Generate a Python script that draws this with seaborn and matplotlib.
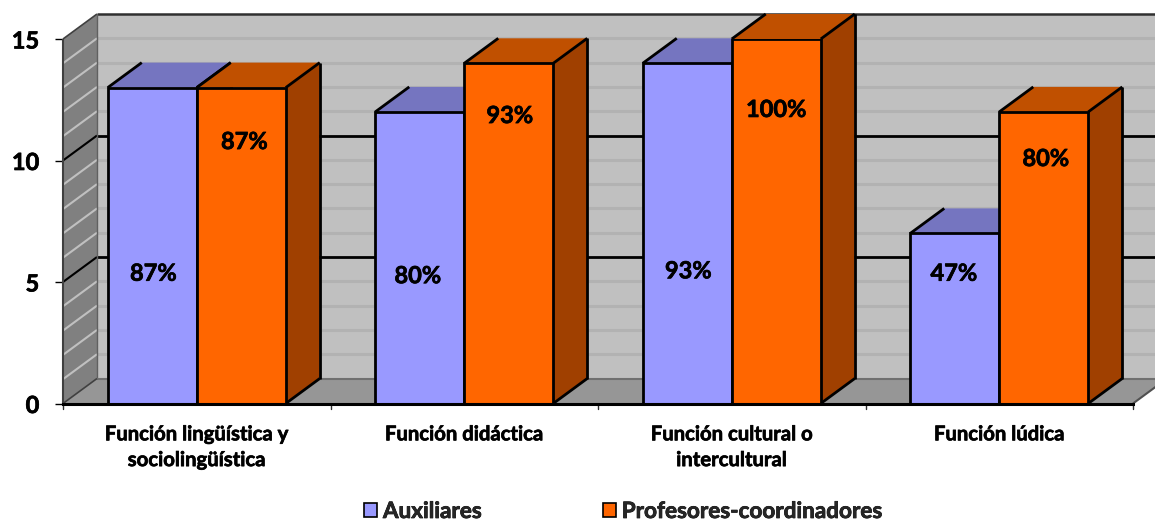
import matplotlib
matplotlib.use("Agg")
import matplotlib.pyplot as plt
import matplotlib.patheffects as pe
from matplotlib.patches import Polygon
import numpy as np
import pandas as pd
import seaborn as sns

categories = ["Función lingüística y\nsociolingüística", "Función didáctica",
              "Función cultural o\nintercultural", "Función lúdica"]
auxiliares = [13, 12, 14, 7]
profesores = [13, 14, 15, 12]
aux_labels = ["87%", "80%", "93%", "47%"]
prof_labels = ["87%", "93%", "100%", "80%"]
aux_label_heights = [5.36, 5.26, 5.46, 5.36]
prof_label_heights = [10.78, 11.85, 12.1, 10.08]
aux_label_shifts = [1, -2, 1, -1]
prof_label_shifts = [3, 1, 0, 2]
series_names = ["Auxiliares", "Profesores-coordinadores"]

FRONT = {"Auxiliares": "#9999FF", "Profesores-coordinadores": "#FF6600"}
TOP = ["#7575C0", "#C05000"]
SIDE = ["#6666AA", "#A04000"]
WALL, SIDE_WALL, FLOOR = "#C0C0C0", "#808080", "#969696"

sns.set_theme(style="white")
plt.rcParams["font.family"] = ["Lato", "DejaVu Sans"]
plt.rcParams["font.weight"] = "bold"

# Slight outline that gives the bold text its heavier weight
HEAVY = [pe.withStroke(linewidth=0.5, foreground="black")]

W, H = 1155, 520
fig = plt.figure(figsize=(W / 100, H / 100), dpi=100)
ax = fig.add_axes([63 / W, (H - 403.5) / H, 1070 / W, 364.5 / H])

frame = pd.DataFrame({
    "categoria": categories * 2,
    "valor": auxiliares + profesores,
    "grupo": [series_names[0]] * 4 + [series_names[1]] * 4,
})
sns.barplot(data=frame, x="categoria", y="valor", hue="grupo", palette=FRONT,
            width=178 / 267.5, gap=0, saturation=1, edgecolor="black",
            linewidth=2, ax=ax, zorder=5)
ax.set_xlim(-0.5, 3.5)
ax.set_ylim(0, 15)
ax.patch.set_visible(False)

# Oblique depth of the chart box, expressed in data units
px_x = 4 / 1070
px_y = 15 / 364.5
dx = 34 * px_x
dy = 25 * px_y
x0, x1 = -0.5, 3.5

def face(points, color, z):
    ax.add_patch(Polygon(points, closed=True, facecolor=color, edgecolor="none",
                         clip_on=False, zorder=z))

def line(xs, ys, color="black", lw=2, z=2):
    ax.plot(xs, ys, color=color, lw=lw, clip_on=False, zorder=z,
            solid_capstyle="butt", scalex=False, scaley=False)

# Walls and floor
face([(x0 + dx, dy), (x1 + dx, dy), (x1 + dx, 15 + dy), (x0 + dx, 15 + dy)], WALL, 0.5)
face([(x0, 0), (x0 + dx, dy), (x0 + dx, 15 + dy), (x0, 15)], SIDE_WALL, 0.5)
face([(x0, 0), (x1, 0), (x1 + dx, dy), (x0 + dx, dy)], FLOOR, 0.6)

# Gridlines on the back and left walls
for v in range(1, 15):
    major = v % 5 == 0
    back_color = "black" if major else "#B2B2B2"
    side_color = "black" if major else "#C0C0C0"
    line([x0 + dx, x1 + dx], [v + dy, v + dy], back_color, 2 if major else 2.2, 1)
    line([x0, x0 + dx], [v, v + dy], side_color, 1.5, 1)

# Outline of the box
line([x0 + dx, x1 + dx], [15 + dy, 15 + dy], "#303030", 1.8, 2)
line([x0, x0 + dx], [15, 15 + dy], "#404040", 1.2, 2)
line([x0 + dx, x0 + dx], [dy, 15 + dy], "#606060", 1, 2)
line([x0, x0], [0, 15], "#404040", 1.5, 2)
line([x0 + dx, x1 + dx], [dy, dy], "#707070", 1.5, 2)
line([x0, x0 + dx], [0, dy], "#404040", 1.2, 2)
line([x1, x1 + dx], [0, dy], "#505050", 1.5, 2)

# Top and side faces of every bar, derived from the bars seaborn drew
for s, container in enumerate(ax.containers):
    base = 3 + s * 3
    for bar in container:
        bar.set_zorder(base + 2)
        left, w, h = bar.get_x(), bar.get_width(), bar.get_height()
        right = left + w
        face([(left, h), (right, h), (right + dx, h + dy), (left + dx, h + dy)], TOP[s], base)
        face([(right, 0), (right + dx, dy), (right + dx, h + dy), (right, h)], SIDE[s], base + 0.5)
        line([left, left + dx], [h, h + dy], "black", 2, base + 1)
        line([right, right + dx], [h, h + dy], "black", 2, base + 1)
        line([right + dx, right + dx], [dy, h + dy], "black", 2, base + 1)
        line([right, right + dx], [0, dy], "black", 2, base + 1)

# Value labels inside the bars
for container, labels, heights, shifts in zip(ax.containers, (aux_labels, prof_labels),
                                              (aux_label_heights, prof_label_heights),
                                              (aux_label_shifts, prof_label_shifts)):
    for bar, label, height, shift in zip(container, labels, heights, shifts):
        ax.text(bar.get_x() + bar.get_width() / 2 + shift * px_x, height, label,
                ha="center", va="center", fontsize=17, fontweight="bold", color="black",
                zorder=20, path_effects=HEAVY)

# Axes
for name, spine in ax.spines.items():
    spine.set_visible(name == "bottom")
ax.spines["bottom"].set_linewidth(2.2)
ax.spines["bottom"].set_color("black")
ax.spines["bottom"].set_zorder(15)
ax.set_xlabel("")
ax.set_ylabel("")
ax.set_yticks([0, 5, 10, 15])
ax.tick_params(axis="y", left=True, length=6, width=1, color="black", labelsize=17,
               pad=11, labelcolor="black")
ax.set_xticks(np.arange(4))
ax.set_xticklabels(categories, fontsize=14.6, fontweight="bold", color="black",
                   linespacing=1.36)
ax.tick_params(axis="x", bottom=False, pad=9)
for text in ax.get_xticklabels() + ax.get_yticklabels():
    text.set_path_effects(HEAVY)
for v in np.arange(x0, x1 + 0.5):
    ax.plot([v, v], [0, -0.22], color="#303030", lw=1, clip_on=False, zorder=14,
            scalex=False, scaley=False)

# Legend below the plot
sns.move_legend(ax, "center", bbox_to_anchor=(623 / W, (H - 511.5) / H),
                bbox_transform=fig.transFigure, ncol=2, title=None, frameon=False,
                fontsize=16.2, handlelength=0.58, handleheight=0.58, handletextpad=0.25,
                columnspacing=5.4, borderpad=0, borderaxespad=0)
for handle in ax.get_legend().get_patches():
    handle.set_linewidth(1.2)
for text in ax.get_legend().get_texts():
    text.set_path_effects(HEAVY)

fig.savefig("out.png", dpi=100)
